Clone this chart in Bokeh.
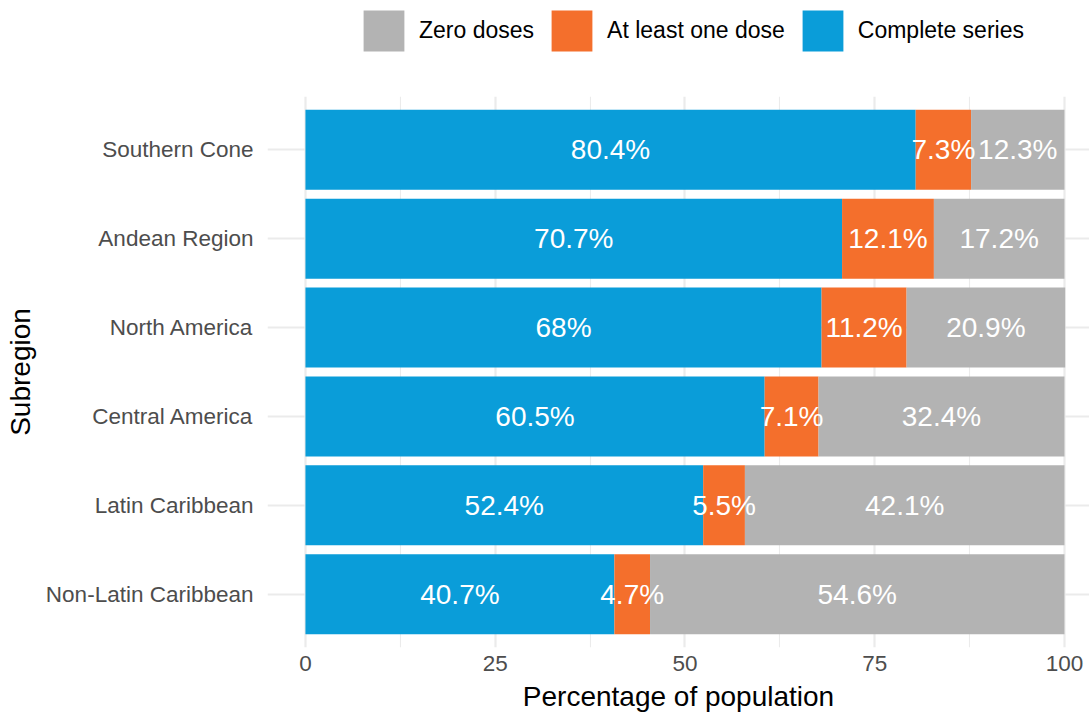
from bokeh.plotting import figure
from bokeh.layouts import column
from bokeh.models import ColumnDataSource, Legend, LegendItem, FactorRange, Range1d, FixedTicker
from bokeh.embed import file_html
from bokeh.resources import INLINE
from bokeh.core.properties import value

# ---- data ----
regions = ["Non-Latin Caribbean", "Latin Caribbean", "Central America",
           "North America", "Andean Region", "Southern Cone"]
complete_series = [40.7, 52.4, 60.5, 68.0, 70.7, 80.4]
at_least_one = [4.7, 5.5, 7.1, 11.2, 12.1, 7.3]
zero_doses = [54.6, 42.1, 32.4, 20.9, 17.2, 12.3]
series_names = ["Complete series", "At least one dose", "Zero doses"]
series_colors = ["#0A9DD9", "#F46F2C", "#B3B3B3"]
x_ticks = [0, 25, 50, 75, 100]

FONT = "Liberation Sans"

src = ColumnDataSource(dict(region=regions, complete=complete_series,
                            one=at_least_one, zero=zero_doses))

# label positions derived from the data (segment centres)
lx, ly, lt = [], [], []
for i, r in enumerate(regions):
    left = 0.0
    for vals in (complete_series, at_least_one, zero_doses):
        v = vals[i]
        lx.append(left + v / 2.0)
        ly.append(r)
        lt.append(f"{v:g}%")
        left += v
lsrc = ColumnDataSource(dict(x=lx, y=ly, t=lt))

# ---- main chart ----
p = figure(
    y_range=FactorRange(factors=regions, range_padding=0.1, range_padding_units="absolute"),
    x_range=Range1d(-5, -5 + 822 / 7.59),
    frame_width=822, frame_height=551,
    min_border_left=267, min_border_right=0, min_border_top=0, min_border_bottom=0,
    output_backend="svg", toolbar_location=None,
)
p.outline_line_color = None
p.background_fill_color = "white"
p.border_fill_color = "white"

rs = p.hbar_stack(["complete", "one", "zero"], y="region", height=0.9,
                  color=series_colors, line_color=None, source=src)

p.text(x="x", y="y", text="t", source=lsrc, text_color="white",
       text_font=value(FONT), text_font_size="28px",
       text_align="center", text_baseline="middle")

minor = [(a + b) / 2 for a, b in zip(x_ticks[:-1], x_ticks[1:])]
p.xaxis.ticker = FixedTicker(ticks=x_ticks, minor_ticks=minor)
for ax in (p.xaxis[0], p.yaxis[0]):
    ax.axis_line_color = None
    ax.major_tick_line_color = None
    ax.minor_tick_line_color = None
    ax.major_tick_out = 0
    ax.major_tick_in = 0
    ax.minor_tick_out = 0
    ax.minor_tick_in = 0
    ax.major_label_text_font = FONT
    ax.major_label_text_font_size = "22.5px"
    ax.major_label_text_color = "#4D4D4D"
    ax.axis_label_text_font = FONT
    ax.axis_label_text_font_size = "28px"
    ax.axis_label_text_font_style = "normal"
    ax.axis_label_text_color = "black"
p.xaxis.axis_label = "Percentage of population"
p.yaxis.axis_label = "Subregion"
p.xaxis.major_label_standoff = 8
p.xaxis.axis_label_standoff = 7
p.yaxis.major_label_standoff = 14
p.yaxis.axis_label_standoff = 7

p.xgrid.grid_line_color = "#EBEBEB"
p.xgrid.grid_line_width = 2.2
p.xgrid.minor_grid_line_color = "#EBEBEB"
p.xgrid.minor_grid_line_width = 1.1
p.ygrid.grid_line_color = "#EBEBEB"
p.ygrid.grid_line_width = 2.2

# ---- legend strip on top (its frame is aligned with the chart frame) ----
lg = figure(width=1089, height=96, x_range=Range1d(0, 1), y_range=Range1d(0, 1),
            min_border_left=0, min_border_right=0, min_border_top=0, min_border_bottom=0,
            output_backend="svg", toolbar_location=None)
lg.axis.visible = False
lg.grid.visible = False
lg.outline_line_color = None
# legend proxies: a single key outside the visible range of the strip
dummies = [lg.hbar(y=[-10], left=[-10], right=[-9], height=1, color=c, line_color=None)
           for c in series_colors]
items = [LegendItem(label=series_names[k], renderers=[dummies[k]]) for k in (2, 1, 0)]
legend = Legend(items=items, orientation="horizontal", location=(91, 40),
                glyph_width=51, glyph_height=51, label_standoff=10, spacing=12,
                padding=0, margin=0, border_line_color=None,
                background_fill_alpha=0,
                label_text_font=FONT, label_text_font_size="23px",
                label_text_color="black")
lg.add_layout(legend, "center")

layout = column(lg, p, spacing=0)
open("out.html", "w").write(file_html(layout, INLINE))
